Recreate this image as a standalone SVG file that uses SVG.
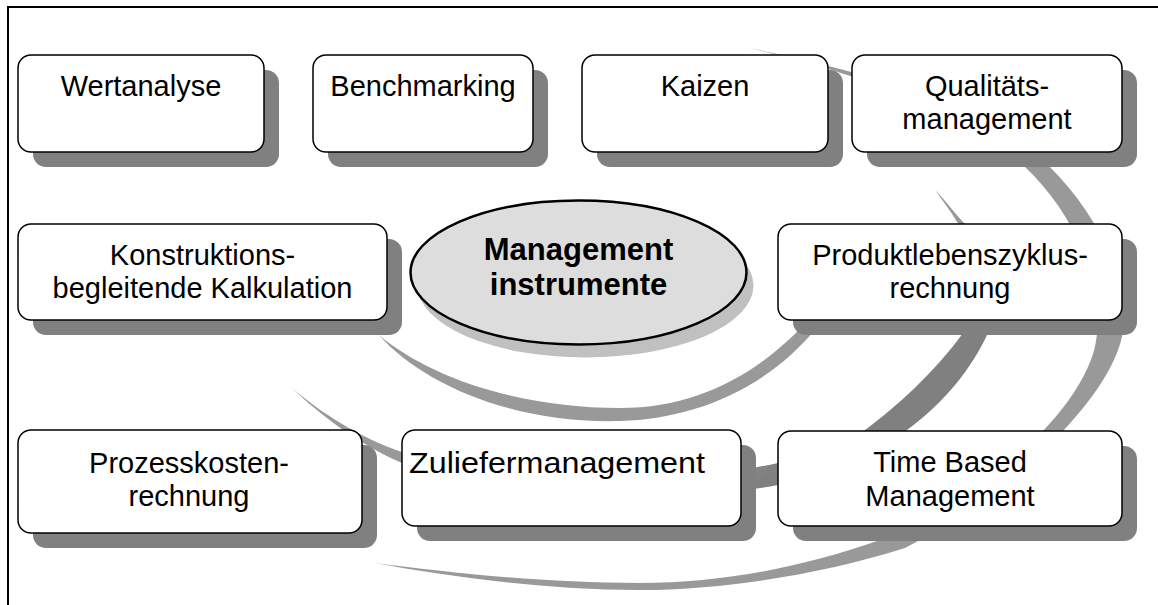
<svg xmlns="http://www.w3.org/2000/svg" width="1158" height="605" viewBox="0 0 1158 605">
<style>
.sh{fill:#808080}
.bx{fill:#fff;stroke:#000;stroke-width:1.5}
.t{font-family:"Liberation Sans",Arial,sans-serif;font-size:29px;fill:#000;text-anchor:middle}
.tb{font-family:"Liberation Sans",Arial,sans-serif;font-size:31px;font-weight:bold;fill:#000;text-anchor:middle}
.light{fill:#999999}
</style>
<defs>
<linearGradient id="gMid" gradientUnits="userSpaceOnUse" x1="590" y1="590" x2="620" y2="620">
<stop offset="0" stop-color="#999999"/>
<stop offset="1" stop-color="#808080"/>
</linearGradient>
</defs>
<rect width="1158" height="605" fill="#fff"/>
<g id="frame"><path d="M8,605 V7 H1158" fill="none" stroke="#000" stroke-width="2"/></g>
<g id="connectors">
<path id="arc-outer" class="light" d="M750,48 C850,70 970,95 1050,167 C1095,212 1124,270 1124,320 C1124,390 1010,495 905,548 C820,575 720,590 640,590 C540,590 440,575 375,563 C445,572 540,583 640,583 C720,583 800,568 880,540 C980,505 1097,400 1097,330 C1097,260 1065,205 1025,167 C975,112 850,72 750,48 Z"/>
<path id="arc-middle" fill="url(#gMid)" d="M292,388 C320,415 360,445 402,463 C470,495 680,505 778,485 C830,470 880,448 907,430 C945,402 972,368 988,333 C1005,290 1000,250 963,222 C952,210 945,200 935,190 C942,200 950,210 957,222 C985,250 985,300 963,333 C935,372 895,408 865,430 C840,448 810,460 778,463 C680,485 480,485 402,452 C360,438 320,412 292,388 Z"/>
<path id="arc-inner" class="light" d="M379,335 C420,382 510,424 620,421 C690,419 765,392 818,326 L812,316 C762,372 700,408 620,408 C520,408 430,378 379,335 Z"/>
</g>
<g id="n-wertanalyse">
<rect class="sh" x="33" y="70" width="246" height="97" rx="13"/>
<rect class="bx" x="18" y="55" width="246" height="97" rx="13"/>
<text class="t" x="141" y="96">Wertanalyse</text>
</g>
<g id="n-benchmarking">
<rect class="sh" x="328" y="70" width="220" height="97" rx="13"/>
<rect class="bx" x="313" y="55" width="220" height="97" rx="13"/>
<text class="t" x="423" y="96">Benchmarking</text>
</g>
<g id="n-kaizen">
<rect class="sh" x="597" y="70" width="246" height="97" rx="13"/>
<rect class="bx" x="582" y="55" width="246" height="97" rx="13"/>
<text class="t" x="705" y="96">Kaizen</text>
</g>
<g id="n-qualitaet">
<rect class="sh" x="867" y="70" width="270" height="97" rx="13"/>
<rect class="bx" x="852" y="55" width="270" height="97" rx="13"/>
<text class="t" x="987" y="96">Qualitäts-</text>
<text class="t" x="987" y="128.5">management</text>
</g>
<g id="n-konstruktion">
<rect class="sh" x="33" y="239" width="369" height="96" rx="13"/>
<rect class="bx" x="18" y="224" width="369" height="96" rx="13"/>
<text class="t" x="202.5" y="265">Konstruktions-</text>
<text class="t" x="202.5" y="297.5">begleitende Kalkulation</text>
</g>
<g id="n-center">
<ellipse cx="585.5" cy="285.5" rx="168" ry="72" fill="#c0c0c0"/>
<ellipse cx="578.5" cy="272.5" rx="168" ry="72" fill="#dddddd" stroke="#000" stroke-width="2.5"/>
<text class="tb" x="578.5" y="260">Management</text>
<text class="tb" x="578.5" y="295">instrumente</text>
</g>
<g id="n-produktlebenszyklus">
<rect class="sh" x="793" y="239" width="344" height="96" rx="13"/>
<rect class="bx" x="778" y="224" width="344" height="96" rx="13"/>
<text class="t" x="950" y="265">Produktlebenszyklus-</text>
<text class="t" x="950" y="297.5">rechnung</text>
</g>
<g id="n-prozesskosten">
<rect class="sh" x="33" y="445" width="344" height="103" rx="13"/>
<rect class="bx" x="18" y="430" width="344" height="103" rx="13"/>
<text class="t" x="189" y="473">Prozesskosten-</text>
<text class="t" x="189" y="506">rechnung</text>
</g>
<g id="n-zuliefer">
<rect class="sh" x="417" y="445" width="339" height="96" rx="13"/>
<rect class="bx" x="402" y="430" width="339" height="96" rx="13"/>
<text class="t" x="409" y="473" style="text-anchor:start" textLength="296" lengthAdjust="spacingAndGlyphs">Zuliefermanagement</text>
</g>
<g id="n-timebased">
<rect class="sh" x="793" y="446" width="344" height="95" rx="13"/>
<rect class="bx" x="778" y="431" width="344" height="95" rx="13"/>
<text class="t" x="950" y="472">Time Based</text>
<text class="t" x="950" y="506">Management</text>
</g>
</svg>
